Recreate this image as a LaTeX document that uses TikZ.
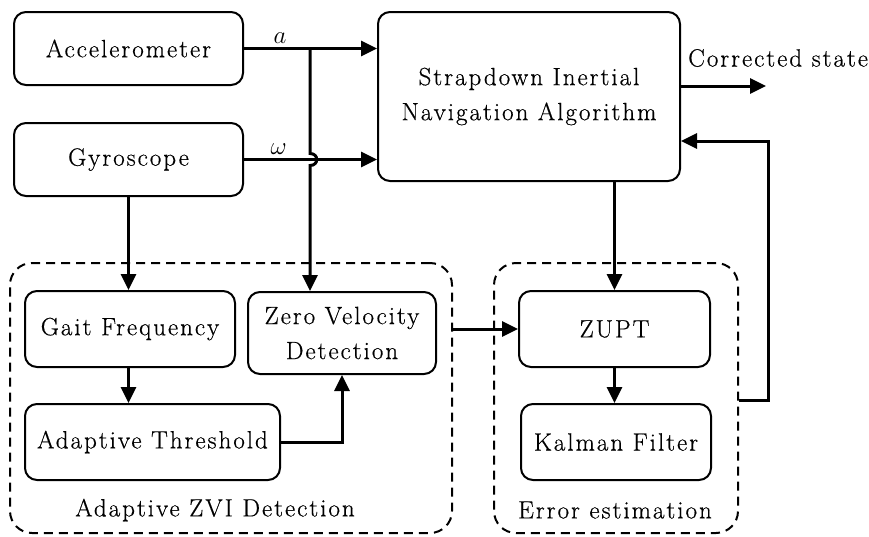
\documentclass[tikz,border=0pt]{standalone}
\usepackage{fontspec}
\setmainfont{Latin Modern Roman}[LetterSpace=8,FakeBold=0.5]
\usetikzlibrary{arrows.meta}
\begin{document}
\begin{tikzpicture}[x=1pt,y=-1pt,
  every node/.style={font=\fontsize{25}{35}\selectfont},
  box/.style={draw,line width=2pt,rounded corners=12pt,align=center,inner sep=0pt},
  dbox/.style={draw,line width=2pt,rounded corners=22pt,dash pattern=on 9pt off 6pt,inner sep=0pt},
  arr/.style={line width=3pt,-{Triangle[length=16pt,width=15pt]}},
  lbl/.style={inner sep=0pt}]
\useasboundingbox (0,0) rectangle (869,536);
% outer dashed groups
\node[dbox,minimum width=442pt,minimum height=270pt] (zvi) at (231,398) {};
\node[dbox,minimum width=244pt,minimum height=270pt] (ee) at (616,398) {};
\node[lbl] (zvil) at (215,510) {Adaptive ZVI Detection};
\node[lbl] (eel) at (615,510) {Error estimation};
% boxes
\node[box,minimum width=229pt,minimum height=73pt] (acc) at (128.5,48.5) {Accelerometer};
\node[box,minimum width=229pt,minimum height=73pt] (gyro) at (128.5,159.5) {Gyroscope};
\node[box,minimum width=302pt,minimum height=169pt] (sins) at (529,96.5) {Strapdown Inertial\\Navigation Algorithm};
\node[box,minimum width=210pt,minimum height=76pt] (gait) at (130,329) {Gait Frequency};
\node[box,minimum width=188pt,minimum height=82pt] (zvd) at (342,333) {Zero Velocity\\Detection};
\node[box,minimum width=255pt,minimum height=76pt] (at) at (152.5,442) {Adaptive Threshold};
\node[box,minimum width=191pt,minimum height=76pt] (zupt) at (614.5,329) {ZUPT};
\node[box,minimum width=190pt,minimum height=76pt] (kal) at (616,442) {Kalman Filter};
% connectors
\draw[arr] (acc.east) -- (acc.east -| sins.west) node[pos=0.27,above=4pt,lbl] (la) {$a$};
\draw[arr] (gyro.east) -- (gyro.east -| sins.west) node[pos=0.26,above=4pt,lbl] (lw) {$\omega$};
\coordinate (j) at (310,48.5);
\draw[arr] (j) -- (310,153.5) .. controls (319,153.5) and (319,165.5) .. (310,165.5) -- (j |- zvd.north);
\draw[arr] (gyro.south) -- (gyro.south |- gait.north);
\draw[arr] (gyro.south |- gait.south) -- (gyro.south |- at.north);
\draw[arr] (at.east) -| (zvd.south);
\draw[arr] (zvi.east |- zupt.west) -- (zupt.west);
\draw[arr] (zupt |- sins.south) -- (zupt.north);
\draw[arr] (zupt.south) -- (zupt.south |- kal.north);
\draw[arr] (ee.east |- 0,400) -- (768,400) |- (sins.east |- 0,141);
\coordinate (cs) at (766,86);
\draw[arr] (sins.east |- cs) -- (cs);
\node[lbl,anchor=west] (csl) at (688,58) {Corrected state};
\end{tikzpicture}
\end{document}
